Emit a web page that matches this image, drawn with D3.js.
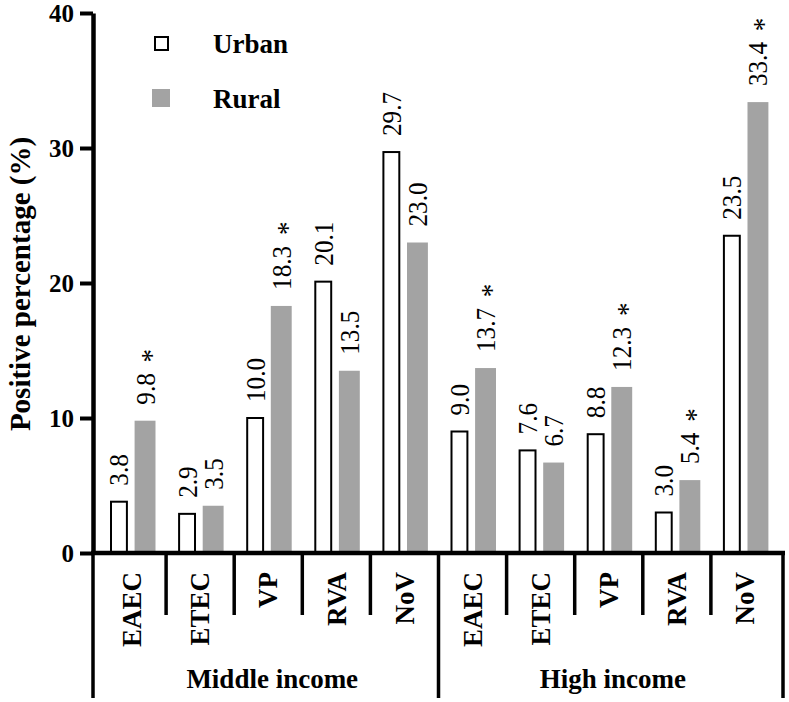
<!DOCTYPE html>
<html lang="en">
<head>
    <meta charset="UTF-8">
    <title>Positive percentage by income and area</title>
    <script src="https://d3js.org/d3.v7.min.js"></script>
    <style>
        body { margin: 0; background: #fff; }
    </style>
</head>
<body>
    <svg width="789" height="702"></svg>

    <script>
        const groups = ["Middle income", "High income"];
        const pathogens = ["EAEC", "ETEC", "VP", "RVA", "NoV"];
        const series = ["Urban", "Rural"];
        const urban = [3.8, 2.9, 10.0, 20.1, 29.7, 9.0, 7.6, 8.8, 3.0, 23.5];
        const rural = [9.8, 3.5, 18.3, 13.5, 23.0, 13.7, 6.7, 12.3, 5.4, 33.4];
        const ruralSig = [true, false, true, false, false, true, false, true, true, true];
        const yTicks = [0, 10, 20, 30, 40];

        const FONT = "Liberation Serif";
        const svg = d3.select("svg");
        const grey = "#a3a3a3";
        const baseY = 553, axisX = 93;

        function txt(sel, size, bold) {
            return sel.style("font-family", FONT)
                .style("font-size", size + "px")
                .style("font-weight", bold ? "bold" : "normal")
                .attr("fill", "#000");
        }

        const keys = [];
        groups.forEach(g => pathogens.forEach(p => keys.push(g + "|" + p)));

        const x = d3.scaleBand().domain(keys).range([98, 779]);
        const xs = d3.scaleBand().domain(series).range([12, 57.5]).paddingInner(0.15);
        const y = d3.scaleLinear().domain([0, 40]).range([baseY, 13]);
        const mid = x.bandwidth() / 2;

        const rows = keys.map((k, i) => ({
            key: k, group: k.split("|")[0], name: k.split("|")[1],
            Urban: urban[i], Rural: rural[i], sig: ruralSig[i]
        }));

        // bars
        const cat = svg.append("g").selectAll("g")
            .data(rows).enter().append("g")
            .attr("transform", d => `translate(${x(d.key)},0)`);

        cat.append("rect")
            .attr("x", xs("Rural"))
            .attr("y", d => y(d.Rural))
            .attr("width", xs.bandwidth())
            .attr("height", d => baseY - y(d.Rural))
            .attr("fill", grey);

        cat.append("rect")
            .attr("x", xs("Urban") + 1)
            .attr("y", d => y(d.Urban))
            .attr("width", xs.bandwidth() - 5)
            .attr("height", d => baseY - y(d.Urban))
            .attr("fill", "#fff")
            .attr("stroke", "#000")
            .attr("stroke-width", 2);

        // value labels (rotated); rural ones get an asterisk when significant
        function valueLabel(sel, s, cx) {
            const t = sel.append("text")
                .attr("transform", d => `translate(${cx},${y(d[s]) - 16}) rotate(-90) scale(0.9,1)`)
                .attr("dy", "0.34em")
                .style("white-space", "pre");
            txt(t, 28, false);
            t.append("tspan").text(d => d[s].toFixed(1));
            t.filter(d => s === "Rural" && d.sig)
                .append("tspan")
                .attr("dx", 12)
                .attr("dy", "0.2em")
                .style("font-size", "30px")
                .text("*");
        }
        valueLabel(cat, "Urban", xs("Urban") + (xs.bandwidth() - 3) / 2);
        valueLabel(cat, "Rural", xs("Rural") + xs.bandwidth() / 2);

        // y axis
        const yAxis = svg.append("g")
            .attr("transform", `translate(${axisX},0)`)
            .call(d3.axisLeft(y).tickValues(yTicks).tickSize(13).tickSizeOuter(0).tickPadding(6));
        yAxis.select(".domain").attr("stroke", "#000").attr("stroke-width", 4.5);
        yAxis.selectAll(".tick line").attr("stroke", "#000").attr("stroke-width", 4);
        txt(yAxis.selectAll(".tick text").attr("dy", "0.34em"), 25, true);

        txt(svg.append("text")
            .attr("transform", `translate(30,284) rotate(-90)`)
            .attr("text-anchor", "middle")
            .text("Positive percentage (%)"), 29, true);

        // baseline and dividers
        const lastX = x.range()[1] + 4;
        svg.append("line")
            .attr("x1", axisX - 2).attr("x2", lastX + 2)
            .attr("y1", baseY).attr("y2", baseY)
            .attr("stroke", "#000").attr("stroke-width", 4.5);

        const bounds = keys.map((k, i) => i === 0 ? axisX : x(k)).concat([lastX]);
        svg.append("g").selectAll("line")
            .data(bounds).enter().append("line")
            .attr("x1", d => d).attr("x2", d => d)
            .attr("y1", baseY)
            .attr("y2", (d, i) => (i % 5 === 0) ? 698 : 615)
            .attr("stroke", "#000")
            .attr("stroke-width", 3.5);

        // category labels
        txt(svg.append("g").selectAll("text")
            .data(rows).enter().append("text")
            .attr("transform", d => `translate(${x(d.key) + mid},572) rotate(-90)`)
            .attr("text-anchor", "end")
            .attr("dy", "0.34em")
            .text(d => d.name), 27, true);

        // group labels
        txt(svg.append("g").selectAll("text")
            .data(groups).enter().append("text")
            .attr("x", g => x(g + "|" + pathogens[2]) + mid + 4)
            .attr("y", 688)
            .attr("text-anchor", "middle")
            .text(g => g), 27, true);

        // legend
        const legend = svg.append("g");
        legend.append("rect")
            .attr("x", 155).attr("y", 37).attr("width", 13).attr("height", 13)
            .attr("fill", "#fff").attr("stroke", "#000").attr("stroke-width", 2);
        legend.append("rect")
            .attr("x", 152).attr("y", 89).attr("width", 18).attr("height", 18)
            .attr("fill", grey);
        txt(legend.selectAll("text")
            .data(series).enter().append("text")
            .attr("x", 213)
            .attr("y", (d, i) => i === 0 ? 53 : 108)
            .text(d => d), 27, true);
    </script>
</body>
</html>
